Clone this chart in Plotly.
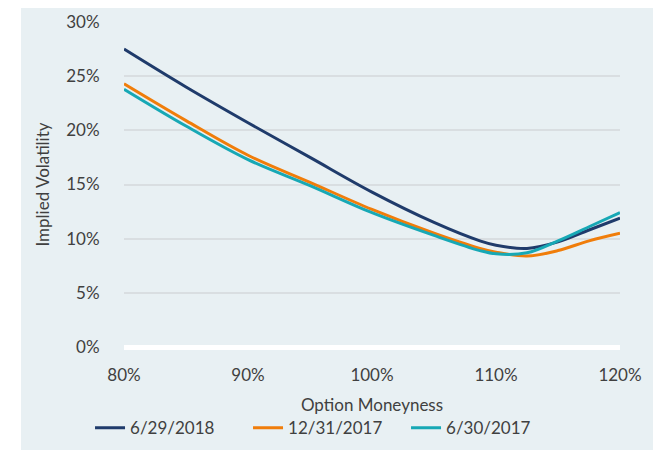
import plotly.graph_objects as go

moneyness = [80, 85, 90, 95, 100, 105, 108.7, 110, 112.5, 115, 117.5, 120]
vol_2018_06 = [27.5, 24.0, 20.7, 17.5, 14.3, 11.5, 9.8, 9.4, 9.1, 9.7, 10.8, 11.9]
vol_2017_12 = [24.3, 20.9, 17.7, 15.2, 12.7, 10.5, 9.1, 8.75, 8.4, 8.9, 9.8, 10.5]
vol_2017_06 = [23.8, 20.4, 17.3, 14.9, 12.4, 10.3, 8.9, 8.6, 8.7, 9.8, 11.1, 12.4]

series = [
    ("6/29/2018", vol_2018_06, "#1f3b6b"),
    ("12/31/2017", vol_2017_12, "#f07d0a"),
    ("6/30/2017", vol_2017_06, "#17a8b5"),
]

x_ticks = [80, 90, 100, 110, 120]
y_ticks = [0, 5, 10, 15, 20, 25, 30]

FONT = "Lato"
TXT = "#404040"
PANEL = "#e8f0f3"

# page body has an 8px default margin; layout is offset to compensate
L, R, T, B = 116, 49, 14, 111
PW = 661 - L - R
PH = 450 - T - B

fig = go.Figure()
for name, vals, color in series:
    fig.add_trace(go.Scatter(
        x=moneyness, y=vals, name=name, mode="lines",
        line=dict(color=color, width=3, shape="spline", smoothing=1.0),
    ))

fig.update_layout(
    width=661, height=450,
    margin=dict(l=L, r=R, t=T, b=B, autoexpand=False),
    paper_bgcolor=PANEL, plot_bgcolor=PANEL,
    font=dict(family=FONT, size=17, color=TXT),
    showlegend=True,
    legend=dict(orientation="h", x=-0.0685, xanchor="left", y=-0.25, yanchor="middle",
                font=dict(size=17, color=TXT), bgcolor="rgba(0,0,0,0)",
                entrywidth=113, entrywidthmode="pixels", tracegroupgap=0),
    xaxis=dict(range=[80, 120], tickvals=x_ticks, ticktext=[f"{v}%" for v in x_ticks],
               showgrid=False, zeroline=False, showline=False, automargin=False,
               ticks="outside", ticklen=13, tickcolor="rgba(0,0,0,0)",
               tickfont=dict(size=17, color=TXT),
               title=dict(text="Option Moneyness", font=dict(size=17, color=TXT), standoff=14)),
    yaxis=dict(range=[0, 30], tickvals=y_ticks, ticktext=[f"{v}%" for v in y_ticks],
               showgrid=True, gridcolor="#d9dee1", gridwidth=2,
               zeroline=True, zerolinecolor="#ffffff", zerolinewidth=5,
               showline=False, automargin=False,
               ticks="outside", ticklen=20, tickcolor="rgba(0,0,0,0)",
               tickfont=dict(size=17, color=TXT),
               title=dict(text="Implied Volatility", font=dict(size=17, color=TXT), standoff=12)),
    shapes=[
        dict(type="rect", xref="paper", yref="paper", x0=-0.5, x1=(13 - L) / PW,
             y0=-0.5, y1=1.5, fillcolor="white", line=dict(width=0), layer="above"),
        dict(type="rect", xref="paper", yref="paper", x0=(645 - L) / PW, x1=1.5,
             y0=-0.5, y1=1.5, fillcolor="white", line=dict(width=0), layer="above"),
    ],
)

fig.write_html("out.html")
